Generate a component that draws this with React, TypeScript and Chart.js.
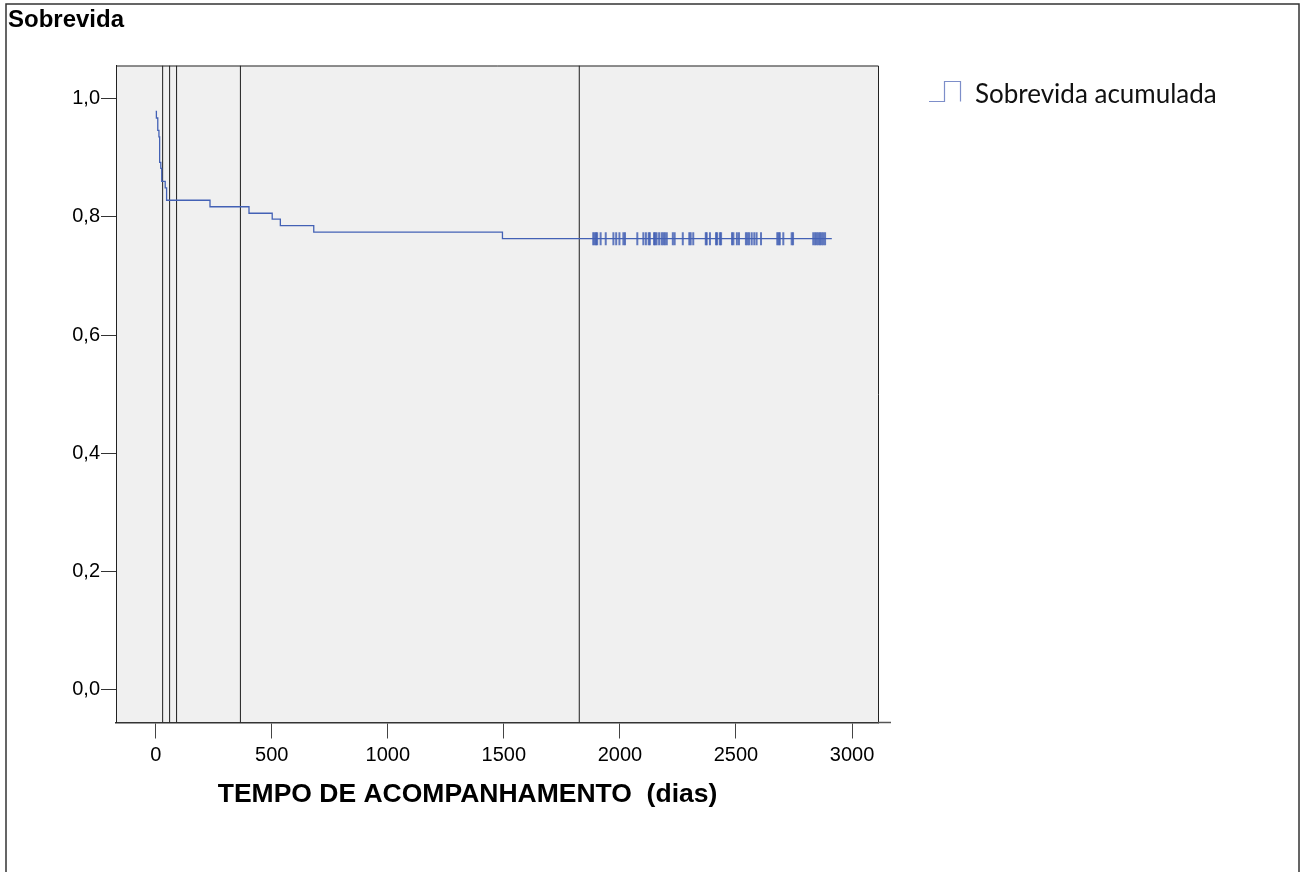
import React, { useEffect, useRef } from 'react';
import { Chart, registerables } from 'chart.js';

Chart.register(...registerables);

// Kaplan-Meier step curve (days, cumulative survival)
const eventDays = [0, 3, 9, 14, 17, 22, 26, 41, 47, 234, 402, 502, 537, 681, 1494, 2913];
const survival = [0.978, 0.967, 0.946, 0.935, 0.892, 0.882, 0.86, 0.849, 0.828, 0.817, 0.806, 0.796, 0.785, 0.774, 0.763, 0.763];

// censored observations (tick marks)
const censoredDays = [
  1885, 1891, 1897, 1902, 1917, 1939, 1972, 1984, 1998, 2015, 2022, 2075, 2101, 2112, 2124, 2129,
  2147, 2152, 2158, 2169, 2180, 2187, 2194, 2202, 2228, 2236, 2271, 2299, 2305, 2316, 2370, 2374,
  2388, 2414, 2419, 2431, 2436, 2483, 2489, 2504, 2513, 2543, 2550, 2557, 2568, 2579, 2589, 2608,
  2678, 2684, 2689, 2704, 2740, 2746, 2833, 2841, 2848, 2855, 2862, 2869, 2876, 2884,
];
const censoredLevel = 0.763;

// vertical reference lines (days)
const referenceDays = [30, 60, 90, 365, 1825];

const xTicks = [0, 500, 1000, 1500, 2000, 2500, 3000];
const yTicks = [0, 0.2, 0.4, 0.6, 0.8, 1.0];
const xRange = [-171, 3112];
const yRange = [-0.055, 1.0558];

const chartTitle = 'Sobrevida';
const xTitle = 'TEMPO DE ACOMPANHAMENTO  (dias)';
const legendLabel = 'Sobrevida acumulada';

const curveColor = '#4361b5';

const decorations = {
  id: 'decorations',
  beforeDraw(chart: any) {
    const { ctx, chartArea } = chart;
    ctx.save();
    ctx.fillStyle = '#ffffff';
    ctx.fillRect(0, 0, chart.width, chart.height);
    // outer frame
    ctx.strokeStyle = '#333333';
    ctx.lineWidth = 1.5;
    ctx.strokeRect(6, 4, 1293, 900);
    // plot background
    ctx.fillStyle = '#f0f0f0';
    ctx.fillRect(chartArea.left, chartArea.top, chartArea.right - chartArea.left, chartArea.bottom - chartArea.top);
    ctx.restore();
  },
  afterDraw(chart: any) {
    const { ctx, chartArea } = chart;
    ctx.save();
    // top and right frame of plot area
    ctx.strokeStyle = '#222222';
    ctx.lineWidth = 1;
    ctx.beginPath();
    ctx.moveTo(chartArea.left, chartArea.top + 0.5);
    ctx.lineTo(chartArea.right + 0.5, chartArea.top + 0.5);
    ctx.lineTo(chartArea.right + 0.5, chartArea.bottom);
    ctx.stroke();
    // x axis line extension
    ctx.strokeStyle = '#555555';
    ctx.lineWidth = 1.5;
    ctx.beginPath();
    ctx.moveTo(chartArea.right, chartArea.bottom);
    ctx.lineTo(891, chartArea.bottom);
    ctx.stroke();

    // title
    ctx.fillStyle = '#000000';
    ctx.textAlign = 'left';
    ctx.textBaseline = 'alphabetic';
    ctx.font = 'bold 24px "Liberation Sans", Arial, sans-serif';
    ctx.fillText(chartTitle, 8, 27);

    // x axis title
    ctx.textAlign = 'center';
    ctx.font = 'bold 26.5px "Liberation Sans", Arial, sans-serif';
    ctx.fillText(xTitle, 467.5, 802);

    // legend
    ctx.strokeStyle = '#7d8ec9';
    ctx.lineWidth = 1.2;
    ctx.beginPath();
    ctx.moveTo(929, 101.5);
    ctx.lineTo(944.5, 101.5);
    ctx.lineTo(944.5, 81.5);
    ctx.lineTo(960.5, 81.5);
    ctx.lineTo(960.5, 101.5);
    ctx.stroke();
    ctx.fillStyle = '#111111';
    ctx.textAlign = 'left';
    ctx.font = '26px Lato, "Open Sans", sans-serif';
    ctx.fillText(legendLabel, 975, 103, 244);
    ctx.restore();
  },
};

export default function App() {
  const ref = useRef<HTMLCanvasElement | null>(null);

  useEffect(() => {
    document.body.style.margin = '0';
    const canvas = ref.current;
    if (!canvas) return;

    const curve = eventDays.map((d, i) => ({ x: d, y: survival[i] }));
    const censored = censoredDays.map((d) => ({ x: d, y: censoredLevel }));

    const datasets: any[] = [
      {
        label: legendLabel,
        data: curve,
        stepped: true,
        borderColor: curveColor,
        borderWidth: 1.3,
        pointRadius: 0,
        fill: false,
      },
      {
        label: 'censored',
        data: censored,
        showLine: false,
        pointStyle: 'line',
        rotation: 90,
        pointRadius: 6.5,
        pointBorderColor: 'rgba(60,90,178,0.8)',
        pointBorderWidth: 2,
        borderColor: 'rgba(60,90,178,0.8)',
      },
      ...referenceDays.map((d) => ({
        label: 'ref' + d,
        data: [
          { x: d, y: yRange[0] },
          { x: d, y: yRange[1] },
        ],
        borderColor: '#1e1e1e',
        borderWidth: 1,
        pointRadius: 0,
        fill: false,
      })),
    ];

    const font = { family: '"Liberation Sans", Arial, sans-serif', size: 20 };

    const chart = new Chart(canvas, {
      type: 'line',
      data: { datasets },
      plugins: [decorations],
      options: {
        responsive: false,
        animation: false,
        events: [],
        layout: { padding: { left: 0, top: 65.5, right: 1304 - 878, bottom: 872 - 722.5 - 40 } },
        plugins: { legend: { display: false }, tooltip: { enabled: false } },
        scales: {
          x: {
            type: 'linear',
            min: xRange[0],
            max: xRange[1],
            afterBuildTicks: (axis: any) => {
              axis.ticks = xTicks.map((v) => ({ value: v }));
            },
            afterFit: (axis: any) => {
              axis.height = 40;
            },
            grid: {
              drawOnChartArea: false,
              drawTicks: true,
              tickLength: 16,
              tickColor: '#444444',
              tickWidth: 1,
            },
            border: { display: true, color: '#333333', width: 1.5 },
            ticks: {
              color: '#000000',
              font,
              padding: 5,
              maxRotation: 0,
              autoSkip: false,
              callback: (v: any) => String(v),
            },
          },
          y: {
            type: 'linear',
            min: yRange[0],
            max: yRange[1],
            afterBuildTicks: (axis: any) => {
              axis.ticks = yTicks.map((v) => ({ value: v }));
            },
            afterFit: (axis: any) => {
              axis.width = 116;
            },
            grid: {
              drawOnChartArea: false,
              drawTicks: true,
              tickLength: 15,
              tickColor: '#333333',
              tickWidth: 1,
            },
            border: { display: true, color: '#222222', width: 1 },
            ticks: {
              color: '#000000',
              font,
              padding: 1,
              autoSkip: false,
              callback: (v: any) => Number(v).toFixed(1).replace('.', ','),
            },
          },
        },
      },
    });

    return () => {
      chart.destroy();
    };
  }, []);

  return (
    <div style={{ width: 1304, height: 872 }}>
      <canvas ref={ref} width={1304} height={872} style={{ display: 'block' }} />
    </div>
  );
}
